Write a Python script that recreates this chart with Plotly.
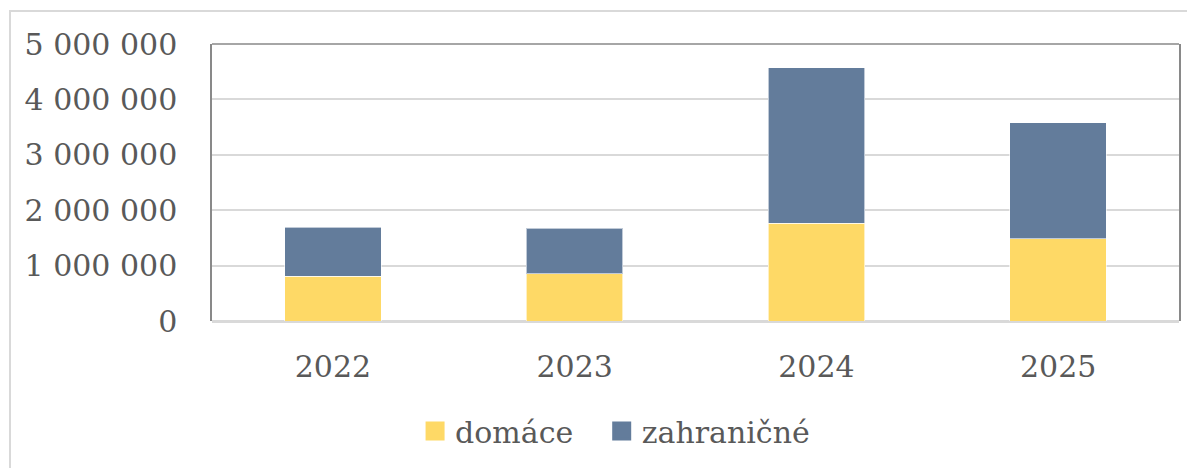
import plotly.graph_objects as go

# Values
years = ["2022", "2023", "2024", "2025"]
domace = [810000, 857000, 1762000, 1486000]
zahranicne = [886000, 821000, 2806000, 2093000]
series_names = ["domáce", "zahraničné"]
colors = ["#FED966", "#637C9B"]
y_ticks = [0, 1000000, 2000000, 3000000, 4000000, 5000000]

FONT = "DejaVu Serif"
TEXT = "#595959"

fig = go.Figure()
for i, (name, vals, col) in enumerate(zip(series_names, [domace, zahranicne], colors)):
    fig.add_trace(go.Bar(
        x=years, y=vals, name=name, showlegend=False,
        marker=dict(color=col, line=dict(color="rgba(255,255,255,0.6)", width=1)),
    ))
    # legend-only marker so the key squares are the right size
    fig.add_trace(go.Scatter(
        x=[None], y=[None], mode="markers", name=name,
        legend="legend" if i == 0 else "legend2",
        marker=dict(symbol="square", size=16, color=col, line=dict(color=col, width=3)),
    ))

legend_style = dict(
    orientation="h", xanchor="left", y=-0.392, yanchor="middle",
    font=dict(size=30, color=TEXT), bgcolor="rgba(0,0,0,0)",
)

# page body adds 8px margin, so the figure is 8px smaller than the window
fig.update_layout(
    width=1187, height=460,
    barmode="stack", bargap=0.6,
    separators=", ",
    plot_bgcolor="white", paper_bgcolor="white",
    margin=dict(l=204, r=16, t=36, b=146),
    font=dict(family=FONT, size=30, color=TEXT),
    legend=dict(x=0.210, **legend_style),
    legend2=dict(x=0.403, **legend_style),
    shapes=[
        # outer chart border
        dict(type="rect", xref="paper", yref="paper", x0=-0.2089, x1=1.0114,
             y0=-0.6, y1=1.1187, line=dict(color="#D9D9D9", width=2), layer="below"),
        # top edge of plot area
        dict(type="line", xref="paper", yref="paper", x0=0, x1=1, y0=1, y1=1,
             line=dict(color="#898989", width=1.5)),
    ],
)
fig.update_xaxes(
    showline=False, showgrid=False, ticks="", ticklabelstandoff=25,
    tickfont=dict(size=30, color=TEXT),
)
fig.update_yaxes(
    range=[0, 5000000], tickvals=y_ticks, tickformat=",d",
    showline=True, mirror=True, linecolor="#898989", linewidth=1.5,
    gridcolor="#D9D9D9", gridwidth=1.5,
    zeroline=True, zerolinecolor="#D9D9D9", zerolinewidth=2.5,
    ticks="", ticklabelstandoff=27, tickfont=dict(size=30, color=TEXT),
)

fig.write_html("out.html")
